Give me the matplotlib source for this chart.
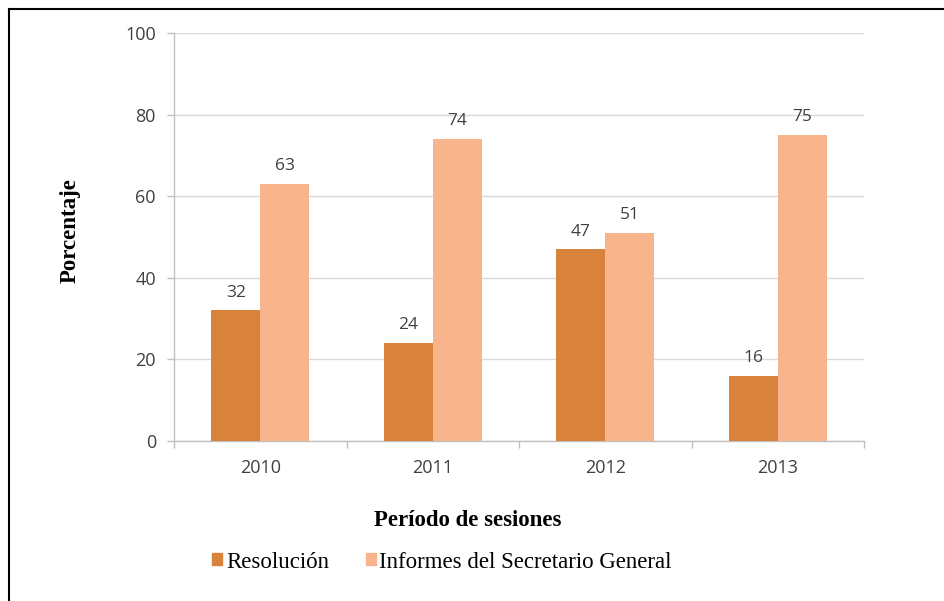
import matplotlib
matplotlib.use("Agg")
import matplotlib.pyplot as plt
from matplotlib.lines import Line2D
from matplotlib.patches import Patch
import numpy as np

years = ["2010", "2011", "2012", "2013"]
resolucion = [32, 24, 47, 16]
informes = [63, 74, 51, 75]
series_names = ["Resolución", "Informes del Secretario General"]
yticks = [0, 20, 40, 60, 80, 100]

c_res = "#d9823b"
c_inf = "#f8b48c"
tick_color = "#404040"
sans = ["Open Sans", "DejaVu Sans"]
serif = ["Liberation Serif", "DejaVu Serif"]

fig = plt.figure(figsize=(9.45, 6.01), dpi=100)
ax = fig.add_axes([174/945, 1-441/601, 690/945, 408/601])

x = np.arange(len(years))
w = 0.284
b1 = ax.bar(x - w/2, resolucion, w, color=c_res, zorder=3)
b2 = ax.bar(x + w/2, informes, w, color=c_inf, zorder=3)

for bars, vals in ((b1, resolucion), (b2, informes)):
    for r, v in zip(bars, vals):
        ax.annotate(str(v), (r.get_x() + r.get_width()/2, v), xytext=(0, 7),
                    textcoords="offset points", ha="center", va="bottom",
                    fontsize=12.5, color=tick_color, family=sans)

ax.set_xlim(-0.5, 3.5)
ax.set_ylim(0, 100)
ax.set_yticks(yticks)
ax.set_yticklabels([str(t) for t in yticks], family=sans, fontsize=13, color=tick_color)
ax.set_xticks(x)
ax.set_xticklabels(years, family=sans, fontsize=13, color=tick_color)
ax.set_xticks(np.arange(-0.5, 4.0, 1.0), minor=True)
ax.tick_params(axis="x", which="major", length=0, pad=13)
ax.tick_params(axis="x", which="minor", length=5, color="#bfbfbf", width=1)
ax.tick_params(axis="y", length=5, color="#bfbfbf", width=1, pad=8)

ax.grid(axis="y", color="#d9d9d9", linewidth=1, zorder=0)
for s in ("top", "right"):
    ax.spines[s].set_visible(False)
for s in ("left", "bottom"):
    ax.spines[s].set_color("#bfbfbf")
    ax.spines[s].set_linewidth(1)

fig.text(70/945, 1-231/601, "Porcentaje", rotation=90, ha="center", va="center",
         family=serif, fontweight="bold", fontsize=16.5)
fig.text(468/945, 1-521/601, "Período de sesiones", ha="center", va="center",
         family=serif, fontweight="bold", fontsize=16.5)

handles = [Patch(color=c_res), Patch(color=c_inf)]
fig.legend(handles, series_names, loc="center", bbox_to_anchor=(442/945, 1-562/601),
           ncol=2, frameon=False, handlelength=0.45, handleheight=0.45, handletextpad=0.15,
           columnspacing=1.6, prop={"family": serif, "size": 16.5})

fig.add_artist(Line2D([9/945, 1], [1-9/601, 1-9/601], color="black", lw=1.5,
                      transform=fig.transFigure))
fig.add_artist(Line2D([9/945, 9/945], [0, 1-9/601], color="black", lw=1.5,
                      transform=fig.transFigure))

fig.savefig("out.png", dpi=100)
